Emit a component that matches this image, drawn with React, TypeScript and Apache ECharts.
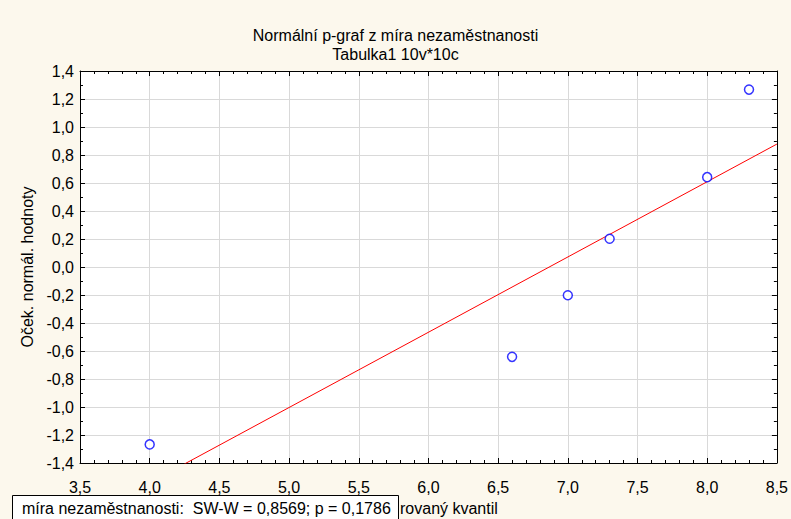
import React, { useEffect, useRef } from "react";
import * as echarts from "echarts";

const titleLines = ["Normální p-graf z míra nezaměstnanosti", "Tabulka1 10v*10c"];
const observedX = [4.0, 6.6, 7.0, 7.3, 8.0, 8.3];
const expectedY = [-1.2671, -0.6418, -0.2014, 0.2014, 0.6418, 1.2671];
const lineX = [3.5, 8.5];
const lineY = [-1.81, 0.878];
// visible part of the x-axis title (the rest is hidden behind the statistics box)
const xAxisNameVisible = "rovaný kvantil";
const yAxisName = "Oček. normál. hodnoty";
const statText = "míra nezaměstnanosti:  SW-W = 0,8569; p = 0,1786";

const fmt = (v: number) => v.toFixed(1).replace(".", ",");
const FONT = "'Liberation Sans', Arial, sans-serif";
const FS = 16;

export default function App() {
  const ref = useRef<HTMLDivElement>(null);
  useEffect(() => {
    if (!ref.current) return;
    const chart = echarts.init(ref.current, null, { renderer: "svg" });
    const axisLine = { show: true, onZero: false, lineStyle: { color: "#000", width: 1 } };
    const axisTick = { show: true, inside: true, length: 5, lineStyle: { color: "#000" } };
    const minorTick = { show: true, length: 3, lineStyle: { color: "#000" } };
    chart.setOption({
      animation: false,
      backgroundColor: "#fcf8ed",
      textStyle: { fontFamily: FONT },
      title: {
        text: titleLines.join("\n"),
        left: "center",
        top: 21,
        textStyle: { fontSize: FS, fontWeight: "normal", color: "#000", lineHeight: 19, fontFamily: FONT },
      },
      grid: { left: 80, right: 9, top: 71, bottom: 56, show: true, backgroundColor: "#fff", borderWidth: 0 },
      xAxis: [
        {
          type: "value",
          min: 3.5,
          max: 8.5,
          interval: 0.5,
          position: "bottom",
          axisLine,
          axisTick,
          minorTick: { ...minorTick, splitNumber: 5 },
          axisLabel: { formatter: fmt, fontSize: FS, color: "#000", margin: 16, fontFamily: FONT },
          splitLine: { show: true, lineStyle: { color: "#d9d9d9", width: 1 } },
          minorSplitLine: { show: false },
        },
        {
          type: "value",
          min: 3.5,
          max: 8.5,
          interval: 0.5,
          position: "top",
          axisLine,
          axisTick,
          minorTick: { ...minorTick, splitNumber: 5 },
          axisLabel: { show: false },
          splitLine: { show: false },
        },
      ],
      yAxis: [
        {
          type: "value",
          min: -1.4,
          max: 1.4,
          interval: 0.2,
          position: "left",
          name: yAxisName,
          nameLocation: "middle",
          nameGap: 45,
          nameRotate: 90,
          nameTextStyle: { fontSize: FS, color: "#000", fontFamily: FONT },
          axisLine,
          axisTick,
          minorTick: { ...minorTick, splitNumber: 2 },
          axisLabel: { formatter: fmt, fontSize: FS, color: "#000", margin: 6, fontFamily: FONT },
          splitLine: { show: true, lineStyle: { color: "#d9d9d9", width: 1 } },
        },
        {
          type: "value",
          min: -1.4,
          max: 1.4,
          interval: 0.2,
          position: "right",
          axisLine,
          axisTick,
          minorTick: { ...minorTick, splitNumber: 2 },
          axisLabel: { show: false },
          splitLine: { show: false },
        },
      ],
      series: [
        {
          type: "line",
          data: lineX.map((x, i) => [x, lineY[i]]),
          symbol: "none",
          clip: true,
          lineStyle: { color: "#ff0000", width: 1 },
          silent: true,
          z: 2,
        },
        {
          type: "scatter",
          data: observedX.map((x, i) => [x, expectedY[i]]),
          symbol: "circle",
          symbolSize: 9,
          itemStyle: { color: "#ffffff", borderColor: "#0000ff", borderWidth: 1.5 },
          z: 3,
        },
      ],
      graphic: [
        {
          type: "rect",
          shape: { x: 12.5, y: 495.5, width: 386, height: 30 },
          style: { fill: "#ffffff", stroke: "#000", lineWidth: 1 },
          z: 100,
        },
        {
          type: "text",
          x: 22,
          y: 508,
          style: { text: statText, fontSize: FS, fill: "#000", fontFamily: FONT, verticalAlign: "middle" },
          z: 101,
        },
        {
          type: "text",
          x: 400,
          y: 508,
          style: { text: xAxisNameVisible, fontSize: FS, fill: "#000", fontFamily: FONT, verticalAlign: "middle" },
          z: 101,
        },
      ],
    });
    return () => chart.dispose();
  }, []);
  return (
    <div
      ref={ref}
      style={{ position: "fixed", left: 0, top: 0, width: 791, height: 519 }}
    />
  );
}
